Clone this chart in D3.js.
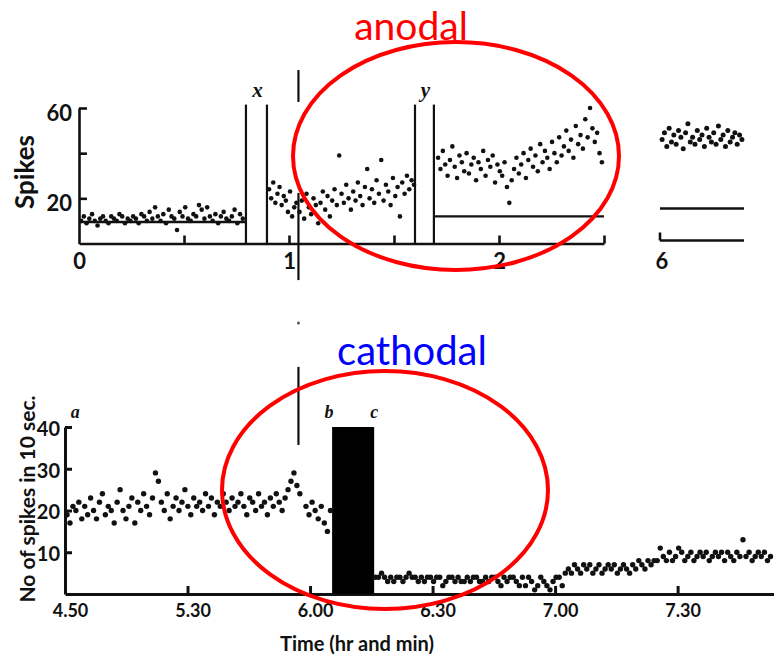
<!DOCTYPE html>
<html><head><meta charset="utf-8">
<script src="https://cdn.jsdelivr.net/npm/d3@7"></script>
<style>body{margin:0;background:#fff}</style>
</head><body><svg id="c" width="774" height="658"></svg>
<script>
// ---------- DATA ----------
// Top panel (anodal): time in hours, spikes
const topA = [10,12,9,11,13,10,8,11,12,10,9,12,11,10,13,12,9,11,10,12,11,9,13,12,10,14,11,16,12,10,13,9,15,12,11,6,14,12,16,11,10,13,12,17,15,11,16,12,10,13,9,12,14,11,10,12,15,9,13,11];
const topATime = [0.01, 0.78];
const topB = [24,20,27,18,22,25,17,21,19,14,23,12,16,18];
const topBTime = [0.905, 1.035];
const topC = [14,19,11,22,16,13,20,17,9,18,23,15,21,12,19,24,17,39,22,18,26,20,15,23,19,27,21,17,25,33,20,24,18,28,22,37,19,26,23,17,29,21,25,12,27,22,30,24,28,26];
const topCTime = [1.05, 1.595];
const topD = [38,33,41,35,30,37,43,34,29,39,36,32,40,31,35,38,28,36,33,41,30,37,34,39,27,35,32,30,36,25,18,28,33,38,31,35,40,29,37,42,34,39,32,44,36,41,38,33,45,40,36,47,39,43,50,41,46,38,52,44,48,42,55,47,60,51,45,49,40,36];
const topDTime = [1.71, 2.49];
const topE = [46,49,43,51,45,48,44,50,47,42,49,53,45,47,44,50,46,48,43,51,47,45,49,44,52,46,48,43,50,45,47,49,44,48,46];
const topETime = [6.01, 6.39];
const topYTicks = [20, 40, 60];
const topYLabels = ["20", "", "60"];
const topXTicks = [0.5, 1, 1.5, 2, 2.5];
const topXLabelTicks = [0, 1, 2];
const topMarkers = [0.795, 0.895, 1.6, 1.69];
const topMarkerNames = ["x", "y"];
const topRefLines = [[0, 0.795, 9.5], [1.69, 2.5, 12]];
const top6RefLine = [6.0, 6.4, 15.5];
const crossLineTime = 1.045;

// Bottom panel (cathodal): time in minutes, spikes per 10 s
const botA = [19,17,21,20,22,18,21,19,23,20,18,22,24,19,21,20,17,22,25,20,18,21,23,17,22,20,24,21,19,23,29,27,22,20,24,18,21,23,20,22,25,21,19,23,21,22,20,24,21,23,19,22,21,24,22,20,23,21,22,24,21,19,23,22,20,24,21,22,19,23,21,24,22,20,23,25,27,29,26,24];
const botATime = [300.5, 357.5];
const botB = [21,19,22,20,18,21,17,15,20];
const botBTime = [359, 365];
const botC = [4,4,5,4,3,4,3,4,4,3,4,5,4,4,3,4,3,4,4,3,4,4,2,3,4,4,3,4,3,3,4,3,4,4,3,3,4,3,4,4,3,2,4,3,4,4,
  3,2,4,2,4,3,1,2,4,3,2,1,3,4,4,2,5,6,5,7,
  6,5,7,6,7,5,6,7,5,6,7,6,7,5,6,7,6,5,7,6,8,7,6,8,7,8,
  8,11,9,8,10,8,9,11,10,8,9,10,8,9,10,9,10,8,9,10,9,10,8,10,9,8,10,9,13,9,10,8,9,10,9,10,8,9];
const botCTime = [376, 472.75];
const botBar = [365.4, 375.7, 40];
const botYTicks = [10, 20, 30, 40];
const botXTicks = [300, 330, 360, 390, 420, 450];
const botXLabels = ["4.50", "5.30", "6.00", "6.30", "7.00", "7.30"];
const botLetters = ["a", "b", "c"];

// ---------- DRAW ----------
const svg = d3.select("#c");
const ink = "#111";
const numFont = "Lato, 'Liberation Sans', sans-serif";
const letterFont = "'Liberation Serif', serif";

const xT = d3.scaleLinear().domain([0, 2.5]).range([79, 604]);
const yT = d3.scaleLinear().domain([0, 60]).range([243.5, 108]);
const xT6 = d3.scaleLinear().domain([6.0, 6.4]).range([660, 744]);
const xB = d3.scaleLinear().domain([300, 473.6]).range([65, 774]);
const yB = d3.scaleLinear().domain([0, 40]).range([594, 427]);

function spread(range, vals) {
  const n = vals.length;
  return vals.map((v, i) => ({ t: range[0] + (range[1] - range[0]) * i / (n - 1), v }));
}
function styleAxis(g, sw, fs) {
  g.select(".domain").attr("stroke", ink).attr("stroke-width", sw);
  g.selectAll(".tick line").attr("stroke", ink).attr("stroke-width", sw);
  g.selectAll(".tick text").attr("fill", ink).style("font-family", numFont)
    .style("font-weight", "bold").style("font-size", fs + "px");
}

// --- top axes
const gyT = svg.append("g").attr("transform", `translate(${xT(0)},0)`)
  .call(d3.axisLeft(yT).tickValues(topYTicks).tickSizeInner(-8).tickSizeOuter(0).tickPadding(7)
    .tickFormat((d, i) => topYLabels[i]));
styleAxis(gyT, 2.6, 22);
gyT.selectAll(".tick text").attr("y", 5);

const gxT = svg.append("g").attr("transform", `translate(0,${yT(0)})`)
  .call(d3.axisBottom(xT).tickValues(topXTicks).tickSizeInner(-8).tickSizeOuter(0).tickFormat(""));
styleAxis(gxT, 2.6, 20);
const gxTL = svg.append("g").attr("transform", `translate(0,${yT(0)})`)
  .call(d3.axisBottom(xT).tickValues(topXLabelTicks).tickSize(0).tickPadding(10).tickFormat(d3.format("d")));
gxTL.select(".domain").remove();
styleAxis(gxTL, 2.6, 22);

// 6-hr inset baseline
svg.append("line").attr("x1", xT6(6.0)).attr("x2", xT6(6.4)).attr("y1", yT(0) - 3).attr("y2", yT(0) - 3)
  .attr("stroke", ink).attr("stroke-width", 2.6);
svg.append("line").attr("x1", xT6(6.0)).attr("x2", xT6(6.0)).attr("y1", yT(0) - 3).attr("y2", yT(0) - 11)
  .attr("stroke", ink).attr("stroke-width", 2.6);
svg.append("text").attr("x", xT6(6.0) + 2).attr("y", yT(0) + 25).attr("text-anchor", "middle")
  .style("font-family", numFont).style("font-weight", "bold").style("font-size", "22px").attr("fill", ink).text("6");

// reference horizontal lines
svg.selectAll(".refT").data(topRefLines).join("line")
  .attr("x1", d => xT(d[0])).attr("x2", d => xT(d[1])).attr("y1", d => yT(d[2])).attr("y2", d => yT(d[2]))
  .attr("stroke", ink).attr("stroke-width", 2.4);
svg.append("line").attr("x1", xT6(top6RefLine[0])).attr("x2", xT6(top6RefLine[1]))
  .attr("y1", yT(top6RefLine[2])).attr("y2", yT(top6RefLine[2])).attr("stroke", ink).attr("stroke-width", 2.6);

// marker lines
svg.selectAll(".mk").data(topMarkers).join("line")
  .attr("x1", d => xT(d)).attr("x2", d => xT(d)).attr("y1", yT(0)).attr("y2", yT(61.5))
  .attr("stroke", ink).attr("stroke-width", 2.2);
topMarkerNames.forEach((n, i) => {
  svg.append("text").attr("x", (xT(topMarkers[2 * i]) + xT(topMarkers[2 * i + 1])) / 2 + 1).attr("y", 97)
    .attr("text-anchor", "middle").style("font-family", letterFont).style("font-style", "italic")
    .style("font-weight", "bold").style("font-size", "21px").attr("fill", ink).text(n);
});

// long crossing line
const cx = xT(crossLineTime);
[[yT(76.8), yT(62.7)], [yT(22.4), yT(-16.2)], [yB(54.4), yB(35.7)]].forEach(s => {
  svg.append("line").attr("x1", cx).attr("x2", cx).attr("y1", s[0]).attr("y2", s[1])
    .attr("stroke", ink).attr("stroke-width", 2.2);
});
svg.append("circle").attr("cx", cx).attr("cy", yB(64.9)).attr("r", 1.5).attr("fill", "#555");

// top dots
const topPts = [].concat(spread(topATime, topA), spread(topBTime, topB), spread(topCTime, topC), spread(topDTime, topD));
svg.append("g").selectAll("circle").data(topPts).join("circle")
  .attr("cx", d => xT(d.t)).attr("cy", d => yT(d.v)).attr("r", 2.3).attr("fill", ink);
svg.append("g").selectAll("circle").data(spread(topETime, topE)).join("circle")
  .attr("cx", d => xT6(d.t)).attr("cy", d => yT(d.v)).attr("r", 2.5).attr("fill", ink);

// top y label
svg.append("text").attr("transform", "translate(34,172) rotate(-90)").attr("text-anchor", "middle")
  .style("font-family", numFont).style("font-weight", "bold").style("font-size", "26px").attr("fill", ink).text("Spikes");

// --- bottom axes
const gyB = svg.append("g").attr("transform", `translate(${xB(300)},0)`)
  .call(d3.axisLeft(yB).tickValues(botYTicks).tickSizeInner(-7).tickSizeOuter(0).tickPadding(5).tickFormat(d3.format("d")));
styleAxis(gyB, 3, 20);
gyB.selectAll(".tick text").attr("y", 2);

const gxB = svg.append("g").attr("transform", `translate(0,${yB(0)})`)
  .call(d3.axisBottom(xB).tickValues(botXTicks).tickSizeInner(-8).tickSizeOuter(0).tickPadding(10)
    .tickFormat((d, i) => botXLabels[i]));
styleAxis(gxB, 3, 18);
gxB.selectAll(".tick text").attr("dx", 5);

// bar
svg.append("rect").attr("x", xB(botBar[0])).attr("width", xB(botBar[1]) - xB(botBar[0]))
  .attr("y", yB(botBar[2])).attr("height", yB(0) - yB(botBar[2])).attr("fill", "#000");

// bottom dots
const botPts = [].concat(spread(botATime, botA), spread(botBTime, botB), spread(botCTime, botC));
svg.append("g").selectAll("circle").data(botPts).join("circle")
  .attr("cx", d => xB(d.t)).attr("cy", d => yB(d.v)).attr("r", 2.7).attr("fill", ink);

// letters a b c
[[xB(302.5), botLetters[0]], [xB(botBar[0]) - 3, botLetters[1]], [xB(botBar[1]), botLetters[2]]].forEach(p => {
  svg.append("text").attr("x", p[0]).attr("y", 418).attr("text-anchor", "middle")
    .style("font-family", letterFont).style("font-style", "italic").style("font-weight", "bold")
    .style("font-size", "18px").attr("fill", ink).text(p[1]);
});

// bottom axis titles
svg.append("text").attr("transform", "translate(35,499) rotate(-90)").attr("text-anchor", "middle")
  .style("font-family", numFont).style("font-weight", "bold").style("font-size", "21px").attr("fill", ink)
  .text("No of spikes in 10 sec.");
svg.append("text").attr("x", 357).attr("y", 651).attr("text-anchor", "middle")
  .style("font-family", numFont).style("font-weight", "bold").style("font-size", "20px").attr("fill", ink)
  .text("Time (hr and min)");

// --- annotations
svg.append("text").attr("x", 411).attr("y", 40).attr("text-anchor", "middle")
  .style("font-family", "Lato, 'Noto Sans', sans-serif").style("font-size", "39px").attr("fill", "#ff0000").text("anodal");
svg.append("text").attr("x", 412).attr("y", 365).attr("text-anchor", "middle")
  .style("font-family", "Lato, 'Noto Sans', sans-serif").style("font-size", "40px").attr("fill", "#0000ff").text("cathodal");
svg.append("ellipse").attr("cx", 456).attr("cy", 156).attr("rx", 163).attr("ry", 114)
  .attr("fill", "none").attr("stroke", "#f00").attr("stroke-width", 4);
svg.append("ellipse").attr("cx", 385).attr("cy", 490).attr("rx", 163).attr("ry", 119)
  .attr("fill", "none").attr("stroke", "#f00").attr("stroke-width", 4);
</script></body></html>
